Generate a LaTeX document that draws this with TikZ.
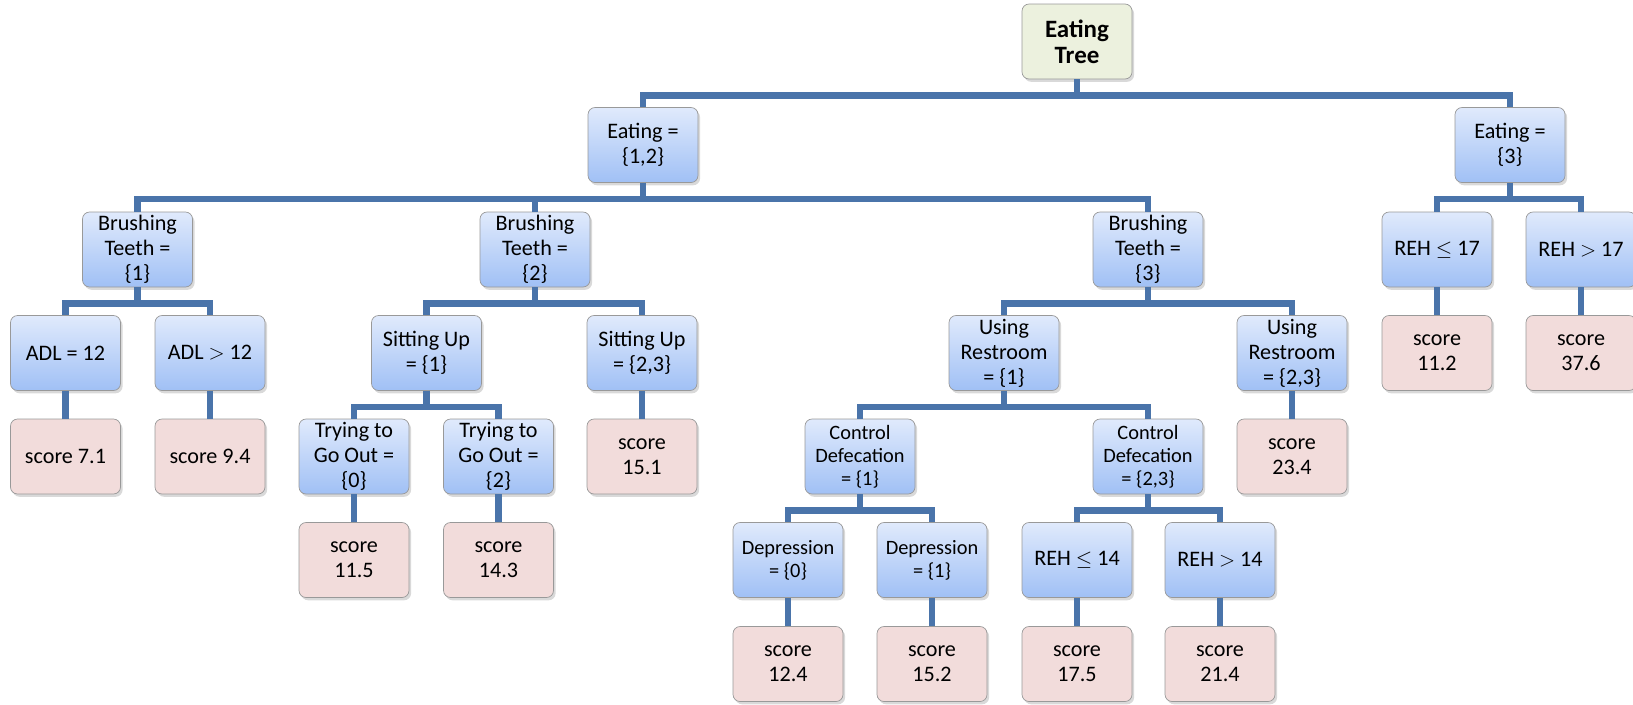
\documentclass[tikz,border=0pt]{standalone}
\usepackage{fontspec}
\setmainfont{Carlito}
\usetikzlibrary{shadows}
\definecolor{linkblue}{RGB}{74,116,170}
\definecolor{splittop}{RGB}{224,234,252}
\definecolor{splitbottom}{RGB}{160,192,245}
\definecolor{rootfill}{RGB}{236,241,222}
\definecolor{scorefill}{RGB}{242,220,219}
\tikzset{treebox/.style={draw=gray!80,rounded corners=4pt,minimum width=2.2cm,minimum height=1.5cm,
        inner sep=0,align=center,font=\fontsize{12.6}{14.2}\selectfont,
        drop shadow={opacity=0.3,shadow xshift=1.2pt,shadow yshift=-1.6pt}},
    splitbox/.style={treebox,top color=splittop,bottom color=splitbottom},
    smallsplit/.style={splitbox,font=\fontsize{11.6}{13.1}\selectfont},
    scorebox/.style={treebox,fill=scorefill},
    rootbox/.style={treebox,fill=rootfill,font=\bfseries\fontsize{14.2}{14.6}\selectfont},
    link/.style={draw=linkblue,line width=3.6pt}
}
\newcommand{\treelink}[2]
{
% args: (parent node, child node)
    \draw [link] (#1.south) -- ++(0,-0.32) -| (#2.north);
}

\begin{document}
\begin{tikzpicture}

\useasboundingbox (0,0) rectangle (32.66,-14.08);

\node [rootbox] (root) at (21.54,-0.83) {Eating\\Tree};

\node [splitbox] (eat12) at (12.86,-2.9) {Eating =\\\{1,2\}};
\node [splitbox] (eat3) at (30.2,-2.9) {Eating =\\\{3\}};

\node [splitbox] (brush1) at (2.75,-4.99) {Brushing\\Teeth =\\\{1\}};
\node [splitbox] (brush2) at (10.7,-4.99) {Brushing\\Teeth =\\\{2\}};
\node [splitbox] (brush3) at (22.96,-4.99) {Brushing\\Teeth =\\\{3\}};
\node [splitbox] (reh17le) at (28.74,-4.99) {REH $\leq$ 17};
\node [splitbox] (reh17gt) at (31.62,-4.99) {REH $>$ 17};

\node [splitbox] (adl12) at (1.31,-7.06) {ADL = 12};
\node [splitbox] (adlgt) at (4.2,-7.06) {ADL $>$ 12};
\node [splitbox] (sit1) at (8.53,-7.06) {Sitting Up\\= \{1\}};
\node [splitbox] (sit23) at (12.84,-7.06) {Sitting Up\\= \{2,3\}};
\node [splitbox] (rest1) at (20.08,-7.06) {Using\\Restroom\\= \{1\}};
\node [splitbox] (rest23) at (25.84,-7.06) {Using\\Restroom\\= \{2,3\}};

\node [splitbox] (out0) at (7.08,-9.13) {Trying to\\Go Out =\\\{0\}};
\node [splitbox] (out2) at (9.97,-9.13) {Trying to\\Go Out =\\\{2\}};
\node [smallsplit] (defec1) at (17.2,-9.13) {Control\\Defecation\\= \{1\}};
\node [smallsplit] (defec23) at (22.96,-9.13) {Control\\Defecation\\= \{2,3\}};

\node [smallsplit] (depr0) at (15.76,-11.2) {Depression\\= \{0\}};
\node [smallsplit] (depr1) at (18.64,-11.2) {Depression\\= \{1\}};
\node [splitbox] (reh14le) at (21.54,-11.2) {REH $\leq$ 14};
\node [splitbox] (reh14gt) at (24.4,-11.2) {REH $>$ 14};

% leaves
\foreach \name/\x/\y/\score in {
    s112/28.74/-7.06/score\\11.2,
    s376/31.62/-7.06/score\\37.6,
    s71/1.31/-9.13/score 7.1,
    s94/4.2/-9.13/score 9.4,
    s151/12.84/-9.13/score\\15.1,
    s234/25.84/-9.13/score\\23.4,
    s115/7.08/-11.2/score\\11.5,
    s143/9.97/-11.2/score\\14.3,
    s124/15.76/-13.28/score\\12.4,
    s152/18.64/-13.28/score\\15.2,
    s175/21.54/-13.28/score\\17.5,
    s214/24.4/-13.28/score\\21.4}
    \node [scorebox] (\name) at (\x,\y) {\score};

\foreach \parent/\child in {
    root/eat12, root/eat3,
    eat12/brush1, eat12/brush2, eat12/brush3,
    eat3/reh17le, eat3/reh17gt, reh17le/s112, reh17gt/s376,
    brush1/adl12, brush1/adlgt, adl12/s71, adlgt/s94,
    brush2/sit1, brush2/sit23, sit23/s151,
    sit1/out0, sit1/out2, out0/s115, out2/s143,
    brush3/rest1, brush3/rest23, rest23/s234,
    rest1/defec1, rest1/defec23,
    defec1/depr0, defec1/depr1, depr0/s124, depr1/s152,
    defec23/reh14le, defec23/reh14gt, reh14le/s175, reh14gt/s214}
    {\treelink{\parent}{\child}}

\end{tikzpicture}
\end{document}
